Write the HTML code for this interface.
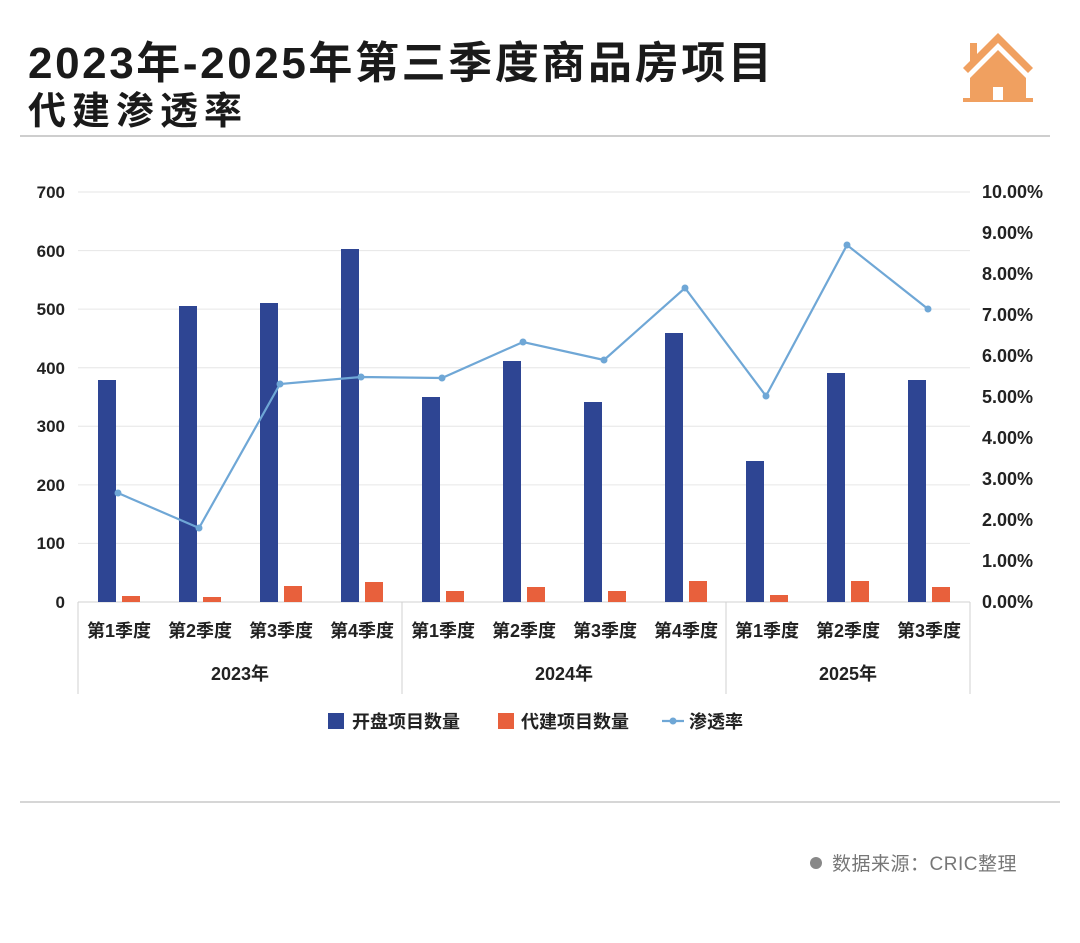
<!DOCTYPE html>
<html><head><meta charset="utf-8"><style>
body{margin:0;background:#fff;width:1080px;height:943px;overflow:hidden}
svg{display:block}
</style></head><body>
<svg width="1080" height="943" viewBox="0 0 1080 943" font-family="'Liberation Sans','Noto Sans CJK SC',sans-serif">
<rect width="1080" height="943" fill="#fff"/>
<text x="28" y="78" font-size="44" font-weight="bold" fill="#1a1a1a" letter-spacing="2.6">2023年-2025年第三季度商品房项目</text>
<text x="28" y="124" font-size="38" font-weight="bold" fill="#1a1a1a" letter-spacing="6">代建渗透率</text>
<line x1="20" y1="136" x2="1050" y2="136" stroke="#bdbdbd" stroke-width="1.5"/>
<g fill="#f0a060" stroke="none">
<polygon points="963,68 998,33 1033,68 1028,73 998,43 968,73"/>
<rect x="970" y="43" width="7" height="18"/>
<polygon points="970,78 998,50 1026,78 1026,100 970,100"/>
<rect x="963" y="98" width="70" height="4"/>
</g>
<rect x="993" y="87" width="10" height="13" fill="#fff"/>
<g stroke="#e6e6e6" stroke-width="1">
<line x1="78" y1="192" x2="970" y2="192"/><line x1="78" y1="250.6" x2="970" y2="250.6"/>
<line x1="78" y1="309.1" x2="970" y2="309.1"/><line x1="78" y1="367.7" x2="970" y2="367.7"/>
<line x1="78" y1="426.3" x2="970" y2="426.3"/><line x1="78" y1="484.9" x2="970" y2="484.9"/>
<line x1="78" y1="543.4" x2="970" y2="543.4"/>
</g>
<line x1="78" y1="602" x2="970" y2="602" stroke="#d0d0d0"/>
<g stroke="#d0d0d0"><line x1="78" y1="602" x2="78" y2="694"/><line x1="402" y1="602" x2="402" y2="694"/><line x1="726" y1="602" x2="726" y2="694"/><line x1="970" y1="602" x2="970" y2="694"/></g>
<g font-size="17" font-weight="bold" fill="#222" text-anchor="end">
<text x="65" y="198">700</text><text x="65" y="257">600</text><text x="65" y="315">500</text><text x="65" y="374">400</text><text x="65" y="432">300</text><text x="65" y="491">200</text><text x="65" y="549">100</text><text x="65" y="608">0</text>
</g>
<g font-size="18" font-weight="bold" fill="#222" text-anchor="start">
<text x="982" y="198">10.00%</text><text x="982" y="239">9.00%</text><text x="982" y="280">8.00%</text><text x="982" y="321">7.00%</text><text x="982" y="362">6.00%</text><text x="982" y="403">5.00%</text><text x="982" y="444">4.00%</text><text x="982" y="485">3.00%</text><text x="982" y="526">2.00%</text><text x="982" y="567">1.00%</text><text x="982" y="608">0.00%</text>
</g>
<g fill="#2e4593">
<rect x="98" y="380" width="18" height="222"/><rect x="179" y="306" width="18" height="296"/><rect x="260" y="303" width="18" height="299"/><rect x="341" y="249" width="18" height="353"/>
<rect x="422" y="397" width="18" height="205"/><rect x="503" y="361" width="18" height="241"/><rect x="584" y="402" width="18" height="200"/><rect x="665" y="333" width="18" height="269"/>
<rect x="746" y="461" width="18" height="141"/><rect x="827" y="373" width="18" height="229"/><rect x="908" y="380" width="18" height="222"/>
</g>
<g fill="#e8603c">
<rect x="122" y="596" width="18" height="6"/><rect x="203" y="597" width="18" height="5"/><rect x="284" y="586" width="18" height="16"/><rect x="365" y="582" width="18" height="20"/>
<rect x="446" y="591" width="18" height="11"/><rect x="527" y="587" width="18" height="15"/><rect x="608" y="591" width="18" height="11"/><rect x="689" y="581" width="18" height="21"/>
<rect x="770" y="595" width="18" height="7"/><rect x="851" y="581" width="18" height="21"/><rect x="932" y="587" width="18" height="15"/>
</g>
<polyline fill="none" stroke="#6fa7d6" stroke-width="2.2" points="118,493 199,528 280,384 361,377 442,378 523,342 604,360 685,288 766,396 847,245 928,309"/>
<g fill="#6fa7d6"><circle cx="118" cy="493" r="3.5"/><circle cx="199" cy="528" r="3.5"/><circle cx="280" cy="384" r="3.5"/><circle cx="361" cy="377" r="3.5"/><circle cx="442" cy="378" r="3.5"/><circle cx="523" cy="342" r="3.5"/><circle cx="604" cy="360" r="3.5"/><circle cx="685" cy="288" r="3.5"/><circle cx="766" cy="396" r="3.5"/><circle cx="847" cy="245" r="3.5"/><circle cx="928" cy="309" r="3.5"/></g>
<g font-size="18" font-weight="bold" fill="#222" text-anchor="middle">
<text x="119" y="637">第1季度</text><text x="200" y="637">第2季度</text><text x="281" y="637">第3季度</text><text x="362" y="637">第4季度</text>
<text x="443" y="637">第1季度</text><text x="524" y="637">第2季度</text><text x="605" y="637">第3季度</text><text x="686" y="637">第4季度</text>
<text x="767" y="637">第1季度</text><text x="848" y="637">第2季度</text><text x="929" y="637">第3季度</text>
<text x="240" y="680">2023年</text><text x="564" y="680">2024年</text><text x="848" y="680">2025年</text>
</g>
<g font-size="18" font-weight="bold" fill="#222">
<rect x="328" y="713" width="16" height="16" fill="#2e4593"/><text x="352" y="728">开盘项目数量</text>
<rect x="498" y="713" width="16" height="16" fill="#e8603c"/><text x="521" y="728">代建项目数量</text>
<line x1="662" y1="721" x2="684" y2="721" stroke="#6fa7d6" stroke-width="2.2"/><circle cx="673" cy="721" r="3.5" fill="#6fa7d6"/><text x="689" y="728">渗透率</text>
</g>
<line x1="20" y1="802" x2="1060" y2="802" stroke="#bdbdbd" stroke-width="1.2"/>
<circle cx="816" cy="863" r="6" fill="#888"/>
<text x="832" y="870" font-size="19" fill="#777" letter-spacing="0.5">数据来源：CRIC整理</text>
</svg>
</body></html>
